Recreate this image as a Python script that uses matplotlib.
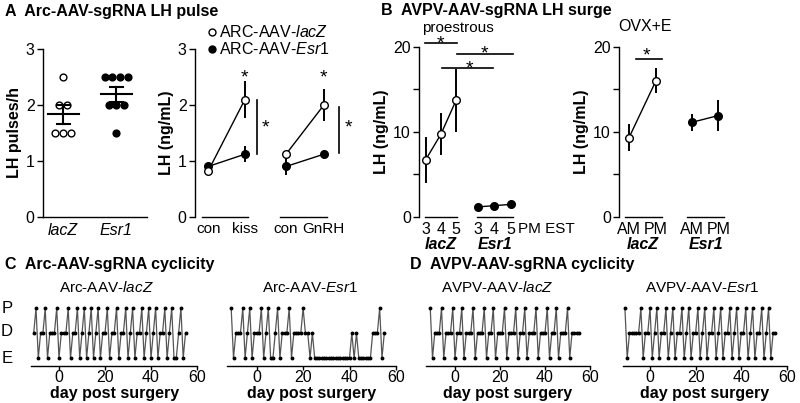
import numpy as np
import matplotlib
matplotlib.use("Agg")
import matplotlib.pyplot as plt

plt.rcParams['font.family'] = ['Liberation Sans', 'DejaVu Sans']
plt.rcParams['mathtext.fontset'] = 'custom'
plt.rcParams['mathtext.rm'] = 'Liberation Sans'
plt.rcParams['mathtext.it'] = 'Liberation Sans:italic'
plt.rcParams['mathtext.bf'] = 'Liberation Sans:bold'

# ---------------- DATA ----------------
# A left: LH pulses/h, individual animals
pulses_lacz = [2.5, 2.0, 2.0, 1.5, 1.5, 1.5]
pulses_esr1 = [2.5, 2.5, 2.5, 2.5, 2.0, 2.0, 2.0, 1.5]
groups_A = ['lacZ', 'Esr1']

# A right: LH (ng/mL) con/kiss, con/GnRH
A_cats = ['con', 'kiss', 'con', 'GnRH']
A_lacz_mean = [0.82, 2.10, 1.12, 2.00]
A_lacz_sem = [0.04, 0.33, 0.05, 0.28]
A_esr1_mean = [0.90, 1.12, 0.90, 1.12]
A_esr1_sem = [0.07, 0.14, 0.16, 0.07]

# B left: proestrous LH surge at 3, 4, 5 PM EST
B_hours = ['3', '4', '5']
B_lacz_mean = [6.7, 9.7, 13.7]
B_lacz_sem = [2.7, 2.5, 3.7]
B_esr1_mean = [1.15, 1.3, 1.45]
B_esr1_sem = [0.15, 0.15, 0.15]

# B right: OVX+E AM / PM
B2_times = ['AM', 'PM']
B2_lacz_mean = [9.3, 16.0]
B2_lacz_sem = [1.6, 1.5]
B2_esr1_mean = [11.1, 11.9]
B2_esr1_sem = [1.0, 1.8]

# C/D: estrous cycle stage per day (P=proestrus, D=diestrus, E=estrus), from day -11
first_day = -11
cyc_arc_lacz = "DPEDDPEDDDPEDDDPEDDPEDPEDPEDPEDDPEDDPEDDPEDPEDDPEDPEDPEDDPEDPEEDPED"
cyc_arc_esr1 = "PEDDDPEDPEDDDPEDPEEDPEDDDPEDDDDPDDEDEEEEEEEEEEEEEEEEDEDEEEEEEDDDPED"
cyc_avpv_lacz = "PEDDDPEDDDPEDDPEDDDPEDDDPEDDPEDDDPEDDDPEDDPEDDDPEDDDPEDDPEDDDPEDDDD"
cyc_avpv_esr1 = "PEDDDDDPEDDPEDPEDDPEDPEDDPEDPEDDPEDPEDDPEDPEDDPEDPEDDPEDPEDDPEDPEDD"
stage_level = {'E': 0, 'D': 1, 'P': 2}

# ---------------- FIGURE ----------------
W, H = 800, 403
fig = plt.figure(figsize=(W / 100, H / 100), dpi=100)


def axes_px(l, t, r, b):
    return fig.add_axes([l / W, 1 - b / H, (r - l) / W, (b - t) / H])


def ftext(x, y, s, **kw):
    kw.setdefault('ha', 'left')
    kw.setdefault('va', 'center')
    fig.text(x / W, 1 - y / H, s, **kw)


FS = 11.5
TFS = 11.5
YLFS = 11.5
STAR = 14

def style_axis(ax):
    for s in ['top', 'right']:
        ax.spines[s].set_visible(False)
    ax.spines['left'].set_linewidth(1.0)
    ax.spines['bottom'].set_linewidth(1.0)
    ax.tick_params(axis='y', direction='out', length=4, width=1, labelsize=FS, pad=2)
    ax.tick_params(axis='x', length=0, labelsize=FS, pad=4)


def star(ax, x, y_top):
    # y_top: top of the asterisk glyph
    ax.text(x, y_top, '*', fontsize=STAR, ha='center', va='top', clip_on=False)


# Titles
ftext(5, 11.5, "A  Arc-AAV-sgRNA LH pulse", fontsize=TFS, fontweight='bold')
ftext(381, 10.5, "B  AVPV-AAV-sgRNA LH surge", fontsize=TFS, fontweight='bold')
ftext(5, 265, "C  Arc-AAV-sgRNA cyclicity", fontsize=TFS, fontweight='bold')
ftext(410, 265, "D  AVPV-AAV-sgRNA cyclicity", fontsize=TFS, fontweight='bold')

# ---------- A left ----------
axA1 = axes_px(43, 49, 147, 217)
style_axis(axA1)
axA1.set_ylim(0, 3)
axA1.set_xlim(-0.38, 1.58)
axA1.set_yticks([0, 1, 2, 3])
axA1.set_xticks([0, 1])
axA1.set_xticklabels(groups_A, fontstyle='italic', fontsize=FS)
axA1.set_ylabel("LH pulses/h", fontsize=YLFS, fontweight='bold', labelpad=3)


def swarm_offsets(vals, spacing):
    vals = np.asarray(vals)
    off = np.zeros(len(vals))
    for v in np.unique(vals):
        idx = np.where(vals == v)[0]
        n = len(idx)
        off[idx] = (np.arange(n) - (n - 1) / 2) * spacing
    return off


for i, (vals, fc) in enumerate([(pulses_lacz, 'white'), (pulses_esr1, 'black')]):
    vals = np.asarray(vals)
    xs = i + swarm_offsets(vals, 0.145)
    axA1.scatter(xs, vals, s=24, facecolor=fc, edgecolor='black', linewidth=1, zorder=3, clip_on=False)
    m = vals.mean()
    sem = vals.std(ddof=1) / np.sqrt(len(vals))
    axA1.plot([i - 0.29, i + 0.29], [m, m], color='black', lw=1.5, zorder=4)
    axA1.plot([i, i], [m - sem, m + sem], color='black', lw=1.5, zorder=4)
    for yy in (m - sem, m + sem):
        axA1.plot([i - 0.12, i + 0.12], [yy, yy], color='black', lw=1.5, zorder=4)

# ---------- A right ----------
axA2 = axes_px(195, 49.3, 355, 216.7)
style_axis(axA2)
axA2.spines['bottom'].set_visible(False)
axA2.set_ylim(0, 3)
axA2.set_xlim(-0.36, 4.0)
axA2.set_yticks([0, 1, 2, 3])
xA = [0, 1, 2.12, 3.15]
axA2.set_xticks(xA)
axA2.set_xticklabels(A_cats, fontsize=11)
axA2.set_ylabel("LH (ng/mL)", fontsize=YLFS, fontweight='bold', labelpad=3)
for (a, b) in [(-0.18, 1.09), (1.95, 3.23)]:
    axA2.plot([a, b], [0, 0], color='black', lw=1, clip_on=False)


def series(ax, x, m, e, fc):
    ax.errorbar(x, m, yerr=e, fmt='none', ecolor='black', elinewidth=1.4, capsize=0, zorder=2)
    ax.plot(x, m, '-', color='black', lw=1, zorder=2)
    ax.plot(x, m, 'o', ms=5.5, mfc=fc, mec='black', mew=1, zorder=3, clip_on=False)


for seg in [slice(0, 2), slice(2, 4)]:
    series(axA2, xA[seg], A_esr1_mean[seg], A_esr1_sem[seg], 'black')
    series(axA2, xA[seg], A_lacz_mean[seg], A_lacz_sem[seg], 'white')

axA2.plot([1.34, 1.34], [1.12, 2.1], color='black', lw=1.2)
axA2.plot([3.57, 3.57], [1.14, 1.96], color='black', lw=1.2)
for (x, y) in [(1, 2.63), (3.15, 2.63), (1.57, 1.74), (3.81, 1.74)]:
    star(axA2, x, y)

# legend
for (yy, fc, lab) in [(31.7, 'white', r"ARC-AAV-$\mathit{lacZ}$"), (49.3, 'black', r"ARC-AAV-$\mathit{Esr1}$")]:
    fig.lines.append(plt.Line2D([211.7 / W], [1 - yy / H], marker='o', ms=5, mfc=fc, mec='black', mew=1,
                                transform=fig.transFigure, figure=fig))
    ftext(219, yy, lab, fontsize=FS)

# ---------- B left ----------
axB1 = axes_px(419.3, 46.7, 520, 216.7)
style_axis(axB1)
axB1.spines['bottom'].set_visible(False)
axB1.set_ylim(0, 20)
axB1.set_xlim(-0.42, 6.2)
axB1.set_yticks([0, 5, 10, 15, 20])
axB1.set_yticklabels(['0', '', '10', '', '20'])
xB_l = [0, 1, 2]
xB_e = [3.42, 4.5, 5.6]
axB1.set_xticks(xB_l + xB_e)
axB1.set_xticklabels(B_hours + B_hours, fontsize=FS)
axB1.set_ylabel("LH (ng/mL)", fontsize=YLFS, fontweight='bold', labelpad=3)
for (a, b) in [(-0.05, 2.05), (3.35, 5.75)]:
    axB1.plot([a, b], [0, 0], color='black', lw=1, clip_on=False)
series(axB1, xB_l, B_lacz_mean, B_lacz_sem, 'white')
series(axB1, xB_e, B_esr1_mean, B_esr1_sem, 'black')
for (a, b, y) in [(-0.05, 2.04, 20.4), (2.04, 5.72, 19.2), (1.05, 4.45, 17.5)]:
    axB1.plot([a, b], [y, y], color='black', lw=1.2, clip_on=False)
for (x, y) in [(1, 21.3), (3.86, 20.15), (2.87, 18.4)]:
    star(axB1, x, y)
ftext(518, 229, "PM EST", fontsize=11)
ftext(458, 27.8, "proestrous", fontsize=11, ha='center')
ftext(441, 244, "lacZ", fontsize=FS, fontweight='bold', fontstyle='italic', ha='center')
ftext(495, 244, "Esr1", fontsize=FS, fontweight='bold', fontstyle='italic', ha='center')

# ---------- B right ----------
axB2 = axes_px(619.3, 46.7, 735, 216.7)
style_axis(axB2)
axB2.spines['bottom'].set_visible(False)
axB2.set_ylim(0, 20)
axB2.set_xlim(-0.36, 3.93)
axB2.set_yticks([0, 5, 10, 15, 20])
axB2.set_yticklabels(['0', '', '10', '', '20'])
xB2_l = [0, 1]
xB2_e = [2.33, 3.31]
axB2.set_xticks(xB2_l + xB2_e)
axB2.set_xticklabels(B2_times + B2_times, fontsize=FS)
axB2.set_ylabel("LH (ng/mL)", fontsize=YLFS, fontweight='bold', labelpad=3)
for (a, b) in [(-0.15, 1.21), (2.14, 3.51)]:
    axB2.plot([a, b], [0, 0], color='black', lw=1, clip_on=False)
series(axB2, xB2_l, B2_lacz_mean, B2_lacz_sem, 'white')
series(axB2, xB2_e, B2_esr1_mean, B2_esr1_sem, 'black')
axB2.plot([0.26, 1.21], [18.6, 18.6], color='black', lw=1.2)
star(axB2, 0.65, 19.95)
ftext(645, 26.7, "OVX+E", fontsize=FS, ha='center')
ftext(643, 244, "lacZ", fontsize=FS, fontweight='bold', fontstyle='italic', ha='center')
ftext(706, 244, "Esr1", fontsize=FS, fontweight='bold', fontstyle='italic', ha='center')

# ---------- C / D cyclicity ----------
def cyc_axis(zero_px, px_per_day, xmin, states, title_x, title):
    xmax = 60
    l = zero_px + xmin * px_per_day
    r = zero_px + xmax * px_per_day
    ax = axes_px(l, 303.3, r, 365.8)
    for s in ['top', 'right', 'left']:
        ax.spines[s].set_visible(False)
    ax.spines['bottom'].set_linewidth(1.0)
    ax.set_xlim(xmin, xmax)
    ax.set_ylim(-0.31, 2.2)
    ax.set_xticks([0, 20, 40, 60])
    ax.tick_params(axis='x', direction='out', length=3, width=1, labelsize=FS, pad=0)
    ax.set_yticks([])
    lv = [stage_level[c] for c in states]
    days = first_day + np.arange(len(lv))
    ax.plot(days, lv, '-', color='#555555', lw=0.9, zorder=2)
    ax.plot(days, lv, 'o', color='black', ms=1.8, zorder=3)
    ax.set_xlabel("day post surgery", fontsize=FS, fontweight='bold', labelpad=1)
    ftext(title_x, 288, title, fontsize=11, ha='center')
    return ax


cyc_axis(59, 2.3, -12, cyc_arc_lacz, 106, r"Arc-AAV-$\mathit{lacZ}$")
cyc_axis(256.7, 2.32, -13, cyc_arc_esr1, 310, r"Arc-AAV-$\mathit{Esr1}$")
cyc_axis(455, 2.25, -13, cyc_avpv_lacz, 497, r"AVPV-AAV-$\mathit{lacZ}$")
cyc_axis(650, 2.28, -12, cyc_avpv_esr1, 702, r"AVPV-AAV-$\mathit{Esr1}$")
for (lab, yy) in [('P', 308.3), ('D', 331.7), ('E', 358.3)]:
    ftext(7, yy, lab, fontsize=12, ha='center')

fig.savefig("out.png", dpi=100)
